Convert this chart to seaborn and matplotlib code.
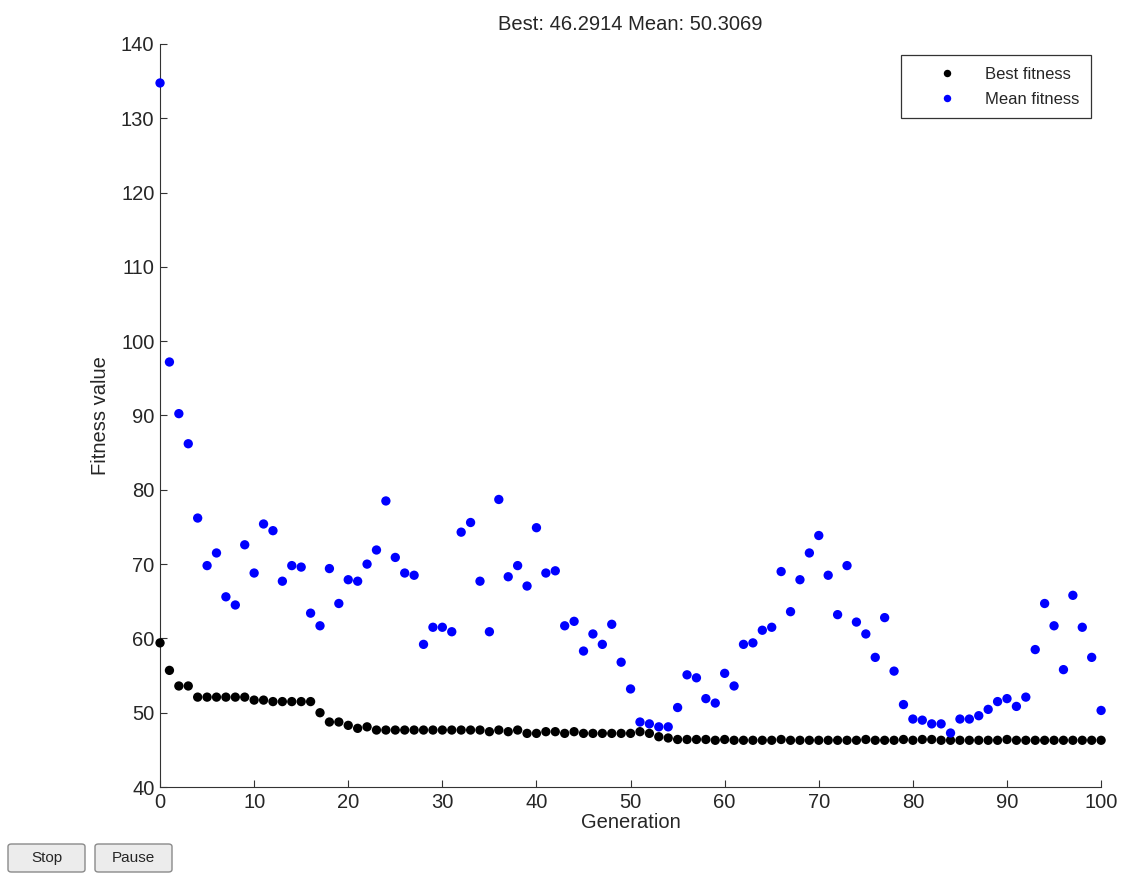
import matplotlib
matplotlib.use("Agg")
import matplotlib.pyplot as plt
from matplotlib.patches import FancyBboxPatch
import seaborn as sns
import numpy as np
import pandas as pd

# Werte (Generation 0..100)
generation = list(range(101))
best_fitness = [
    59.4, 55.7, 53.6, 53.6, 52.1, 52.1, 52.1, 52.1, 52.1, 52.1,
    51.7, 51.7, 51.5, 51.5, 51.5, 51.5, 51.5, 50.0, 48.75, 48.75,
    48.3, 47.9, 48.1, 47.67, 47.67, 47.67, 47.67, 47.67, 47.67, 47.67,
    47.67, 47.67, 47.67, 47.67, 47.67, 47.45, 47.67, 47.45, 47.67, 47.22,
    47.22, 47.45, 47.45, 47.22, 47.45, 47.22, 47.22, 47.22, 47.22, 47.22,
    47.22, 47.45, 47.22, 46.77, 46.6, 46.4, 46.4, 46.4, 46.4, 46.29,
    46.4, 46.29, 46.29, 46.29, 46.29, 46.29, 46.4, 46.29, 46.29, 46.29,
    46.29, 46.29, 46.29, 46.29, 46.29, 46.4, 46.29, 46.29, 46.29, 46.4,
    46.29, 46.4, 46.4, 46.29, 46.29, 46.29, 46.29, 46.29, 46.29, 46.29,
    46.4, 46.29, 46.29, 46.29, 46.29, 46.29, 46.29, 46.29, 46.29, 46.29,
    46.2914,
]
mean_fitness = [
    134.75, 97.2, 90.25, 86.2, 76.2, 69.8, 71.5, 65.6, 64.5, 72.6,
    68.8, 75.4, 74.5, 67.7, 69.8, 69.6, 63.4, 61.7, 69.4, 64.7,
    67.9, 67.7, 70.0, 71.9, 78.5, 70.9, 68.8, 68.5, 59.2, 61.5,
    61.5, 60.9, 74.3, 75.6, 67.7, 60.9, 78.7, 68.3, 69.8, 67.05,
    74.9, 68.8, 69.1, 61.7, 62.3, 58.3, 60.6, 59.2, 61.9, 56.8,
    53.2, 48.75, 48.5, 48.1, 48.1, 50.7, 55.1, 54.7, 51.9, 51.3,
    55.3, 53.6, 59.2, 59.4, 61.1, 61.5, 69.0, 63.6, 67.9, 71.5,
    73.85, 68.5, 63.2, 69.8, 62.2, 60.6, 57.45, 62.8, 55.6, 51.1,
    49.15, 49.0, 48.5, 48.5, 47.27, 49.15, 49.15, 49.6, 50.45, 51.5,
    51.9, 50.85, 52.1, 58.5, 64.7, 61.7, 55.8, 65.8, 61.5, 57.45,
    50.3069,
]
series_names = ["Best fitness", "Mean fitness"]
series_colors = ["#000000", "#0000ff"]
title_text = "Best: 46.2914 Mean: 50.3069"

df = pd.DataFrame({
    "Generation": generation * 2,
    "Fitness value": best_fitness + mean_fitness,
    "series": [series_names[0]] * len(generation) + [series_names[1]] * len(generation),
})

sns.set_style("ticks")
plt.rcParams["font.family"] = ["Liberation Sans", "DejaVu Sans"]
plt.rcParams["xtick.direction"] = "in"
plt.rcParams["ytick.direction"] = "in"

fig = plt.figure(figsize=(11.23, 8.74), dpi=100)
ax = fig.add_axes([0.1425, 0.0995, 0.838, 0.8502])

sns.scatterplot(data=df, x="Generation", y="Fitness value", hue="series",
                palette=dict(zip(series_names, series_colors)),
                s=45, linewidth=0, ax=ax, legend=True, clip_on=False,
                zorder=3)

ax.set_xlim(0, 100)
ax.set_ylim(40, 140)
ax.set_xticks(np.arange(0, 101, 10))
ax.set_yticks(np.arange(40, 141, 10))
ax.tick_params(labelsize=14.5, length=5, width=0.8, color="#333333", pad=4)
ax.set_xlabel("Generation", fontsize=14.5, labelpad=1)
ax.set_ylabel("Fitness value", fontsize=14.5, labelpad=8)
ax.set_title(title_text, fontsize=14.5, pad=10)
sns.despine(ax=ax)
for side in ["left", "bottom"]:
    ax.spines[side].set_color("#333333")
    ax.spines[side].set_linewidth(0.8)

leg = ax.legend(loc="upper right", bbox_to_anchor=(0.989, 0.985),
                borderaxespad=0, fontsize=12, frameon=True, fancybox=False,
                edgecolor="black", markerscale=0.8, handlelength=4.1,
                handletextpad=0.2, borderpad=0.7, labelspacing=0.6,
                title=None)
leg.get_frame().set_linewidth(0.9)

# Knöpfe unten links (Stop / Pause)
for label, x0 in [("Stop", 8), ("Pause", 95)]:
    w, h, y0 = 77, 28, 874 - 872
    box = FancyBboxPatch((x0 / 1123, y0 / 874), w / 1123, h / 874,
                         boxstyle="round,pad=0,rounding_size=0.003",
                         transform=fig.transFigure, facecolor="#ececec",
                         edgecolor="#8a8a8a", linewidth=1)
    fig.patches.append(box)
    fig.text((x0 + w / 2) / 1123, (y0 + h / 2) / 874, label,
             ha="center", va="center", fontsize=11)

fig.savefig("out.png", dpi=100)
